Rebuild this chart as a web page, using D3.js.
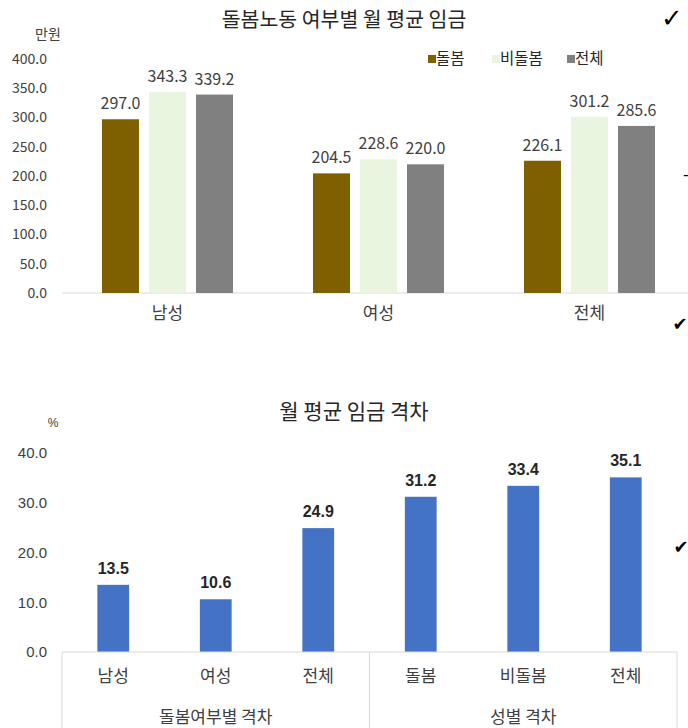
<!DOCTYPE html>
<html>
<head>
<meta charset="utf-8">
<script src="https://cdn.jsdelivr.net/npm/d3@7"></script>
<style>
  body { margin: 0; background: #fff; }
  svg { display: block; }
  .kr { font-family: "Noto Sans CJK KR", "Noto Sans", sans-serif; fill: #404040; }
  .ar { font-family: "Liberation Sans", Arial, sans-serif; fill: #404040; }
</style>
</head>
<body>
<svg id="chart" width="688" height="728"></svg>
<script>
// top chart: 돌봄노동 여부별 월 평균 임금 (만원)
const wageGroups = ["남성", "여성", "전체"];
const wageSeries = ["돌봄", "비돌봄", "전체"];
const wageValues = [
  [297.0, 343.3, 339.2],
  [204.5, 228.6, 220.0],
  [226.1, 301.2, 285.6]
];
const wageTicks = [0, 50, 100, 150, 200, 250, 300, 350, 400];
const wageColors = ["#7F6000", "#E9F5DF", "#808080"];

// bottom chart: 월 평균 임금 격차 (%)
const gapCats = ["남성", "여성", "전체", "돌봄", "비돌봄", "전체"];
const gapValues = [13.5, 10.6, 24.9, 31.2, 33.4, 35.1];
const gapGroups = ["돌봄여부별 격차", "성별 격차"];
const gapTicks = [0, 10, 20, 30, 40];

const svg = d3.select("#chart");

// ---------- top chart ----------
const topG = svg.append("g");

topG.append("text").attr("class", "kr")
  .attr("x", 344).attr("y", 27)
  .attr("text-anchor", "middle")
  .attr("font-size", 20.5).attr("font-weight", 400)
  .style("fill", "#262626")
  .text("돌봄노동 여부별 월 평균 임금");

topG.append("text").attr("class", "kr")
  .attr("x", 48).attr("y", 39)
  .attr("text-anchor", "middle").attr("font-size", 14)
  .text("만원");

const x0 = d3.scaleBand().domain(wageGroups).range([62, 695]);
const x1 = d3.scaleBand().domain(d3.range(wageSeries.length))
  .range([-65.5, 65.5]).paddingInner(10 / 47);
const y0 = d3.scaleLinear().domain([0, 400]).range([293, 59]);

const yAxisTop = d3.axisLeft(y0).tickValues(wageTicks)
  .tickFormat(d3.format(".1f")).tickSize(0).tickPadding(15);
topG.append("g").attr("transform", "translate(62,0)").call(yAxisTop)
  .call(g => g.select(".domain").remove())
  .selectAll("text").attr("class", "kr").attr("font-size", 14)
  .style("fill", "#404040");

topG.append("line")
  .attr("x1", 62).attr("x2", 688)
  .attr("y1", y0(0)).attr("y2", y0(0))
  .attr("stroke", "#D9D9D9");

const groupG = topG.selectAll(".grp").data(wageGroups).enter().append("g")
  .attr("transform", d => `translate(${x0(d) + x0.bandwidth() / 2},0)`);

groupG.selectAll("rect")
  .data((d, i) => wageValues[i].map((v, j) => ({ v, j })))
  .enter().append("rect")
  .attr("x", d => x1(d.j))
  .attr("width", x1.bandwidth())
  .attr("y", d => y0(d.v))
  .attr("height", d => y0(0) - y0(d.v))
  .attr("fill", d => wageColors[d.j]);

groupG.selectAll(".lbl")
  .data((d, i) => wageValues[i].map((v, j) => ({ v, j })))
  .enter().append("text").attr("class", "kr")
  .attr("x", d => x1(d.j) + x1.bandwidth() / 2)
  .attr("y", d => y0(d.v) - 10)
  .attr("text-anchor", "middle").attr("font-size", 16)
  .text(d => d.v.toFixed(1));

const xAxisTop = d3.axisBottom(x0).tickSize(0).tickPadding(14);
topG.append("g").attr("transform", `translate(0,${y0(0)})`).call(xAxisTop)
  .call(g => g.select(".domain").remove())
  .selectAll("text").attr("class", "kr").attr("font-size", 17)
  .style("fill", "#404040");

// legend
const legendX = [428, 492, 567];
const legend = topG.selectAll(".leg").data(wageSeries).enter().append("g")
  .attr("transform", (d, i) => `translate(${legendX[i]},55)`);
legend.append("rect").attr("width", 8).attr("height", 8)
  .attr("fill", (d, i) => wageColors[i]);
legend.append("text").attr("class", "kr")
  .attr("x", 8).attr("y", 9).attr("font-size", 15.5)
  .style("fill", "#262626")
  .text(d => d);

// ---------- bottom chart ----------
const bot = svg.append("g");

bot.append("text").attr("class", "kr")
  .attr("x", 354).attr("y", 419)
  .attr("text-anchor", "middle")
  .attr("font-size", 21).attr("font-weight", 400)
  .style("fill", "#262626")
  .text("월 평균 임금 격차");

bot.append("text").attr("class", "ar")
  .attr("x", 53).attr("y", 427)
  .attr("text-anchor", "middle").attr("font-size", 12)
  .text("%");

const x2 = d3.scaleBand().domain(d3.range(gapCats.length))
  .range([62, 677]).paddingInner(0.69).paddingOuter(0.345);
const xb = d3.scaleBand().domain(d3.range(gapCats.length)).range([62, 677]);
const y2 = d3.scaleLinear().domain([0, 40]).range([652, 453]);

const yAxisBot = d3.axisLeft(y2).tickValues(gapTicks)
  .tickFormat(d3.format(".1f")).tickSize(0).tickPadding(15);
bot.append("g").attr("transform", "translate(62,0)").call(yAxisBot)
  .call(g => g.select(".domain").remove())
  .selectAll("text").attr("class", "ar").attr("font-size", 15)
  .style("fill", "#404040");

bot.selectAll(".bar").data(gapValues).enter().append("rect")
  .attr("x", (d, i) => x2(i))
  .attr("width", x2.bandwidth())
  .attr("y", d => y2(d))
  .attr("height", d => y2(0) - y2(d))
  .attr("fill", "#4472C4");

bot.selectAll(".val").data(gapValues).enter().append("text").attr("class", "ar")
  .attr("x", (d, i) => x2(i) + x2.bandwidth() / 2)
  .attr("y", d => y2(d) - 11)
  .attr("text-anchor", "middle").attr("font-size", 16).attr("font-weight", "bold")
  .style("fill", "#262626")
  .text(d => d.toFixed(1));

// category axis with group boxes
bot.append("line")
  .attr("x1", 62).attr("x2", 677)
  .attr("y1", y2(0)).attr("y2", y2(0))
  .attr("stroke", "#D9D9D9");
[0, 3, 6].forEach(i => {
  const xx = i < 6 ? xb(i) : xb.range()[1];
  bot.append("line")
    .attr("x1", xx).attr("x2", xx)
    .attr("y1", y2(0)).attr("y2", 728)
    .attr("stroke", "#D9D9D9");
});

bot.selectAll(".cat").data(gapCats).enter().append("text").attr("class", "kr")
  .attr("x", (d, i) => xb(i) + xb.bandwidth() / 2)
  .attr("y", 682)
  .attr("text-anchor", "middle").attr("font-size", 17)
  .text(d => d);

bot.selectAll(".grp2").data(gapGroups).enter().append("text").attr("class", "kr")
  .attr("x", (d, i) => xb(i * 3) + xb.bandwidth() * 1.5)
  .attr("y", 723)
  .attr("text-anchor", "middle").attr("font-size", 17)
  .text(d => d);

// page marks at the right edge
const marks = [
  { t: "✓", x: 672, y: 27, s: 26 },
  { t: "-", x: 686, y: 180, s: 16 },
  { t: "✔", x: 680, y: 330, s: 18 },
  { t: "✔", x: 681, y: 553, s: 18 }
];
svg.selectAll(".mark").data(marks).enter().append("text")
  .attr("x", d => d.x).attr("y", d => d.y)
  .attr("text-anchor", "middle")
  .attr("font-family", "DejaVu Sans")
  .attr("font-size", d => d.s)
  .attr("fill", "#000")
  .text(d => d.t);
</script>
</body>
</html>
